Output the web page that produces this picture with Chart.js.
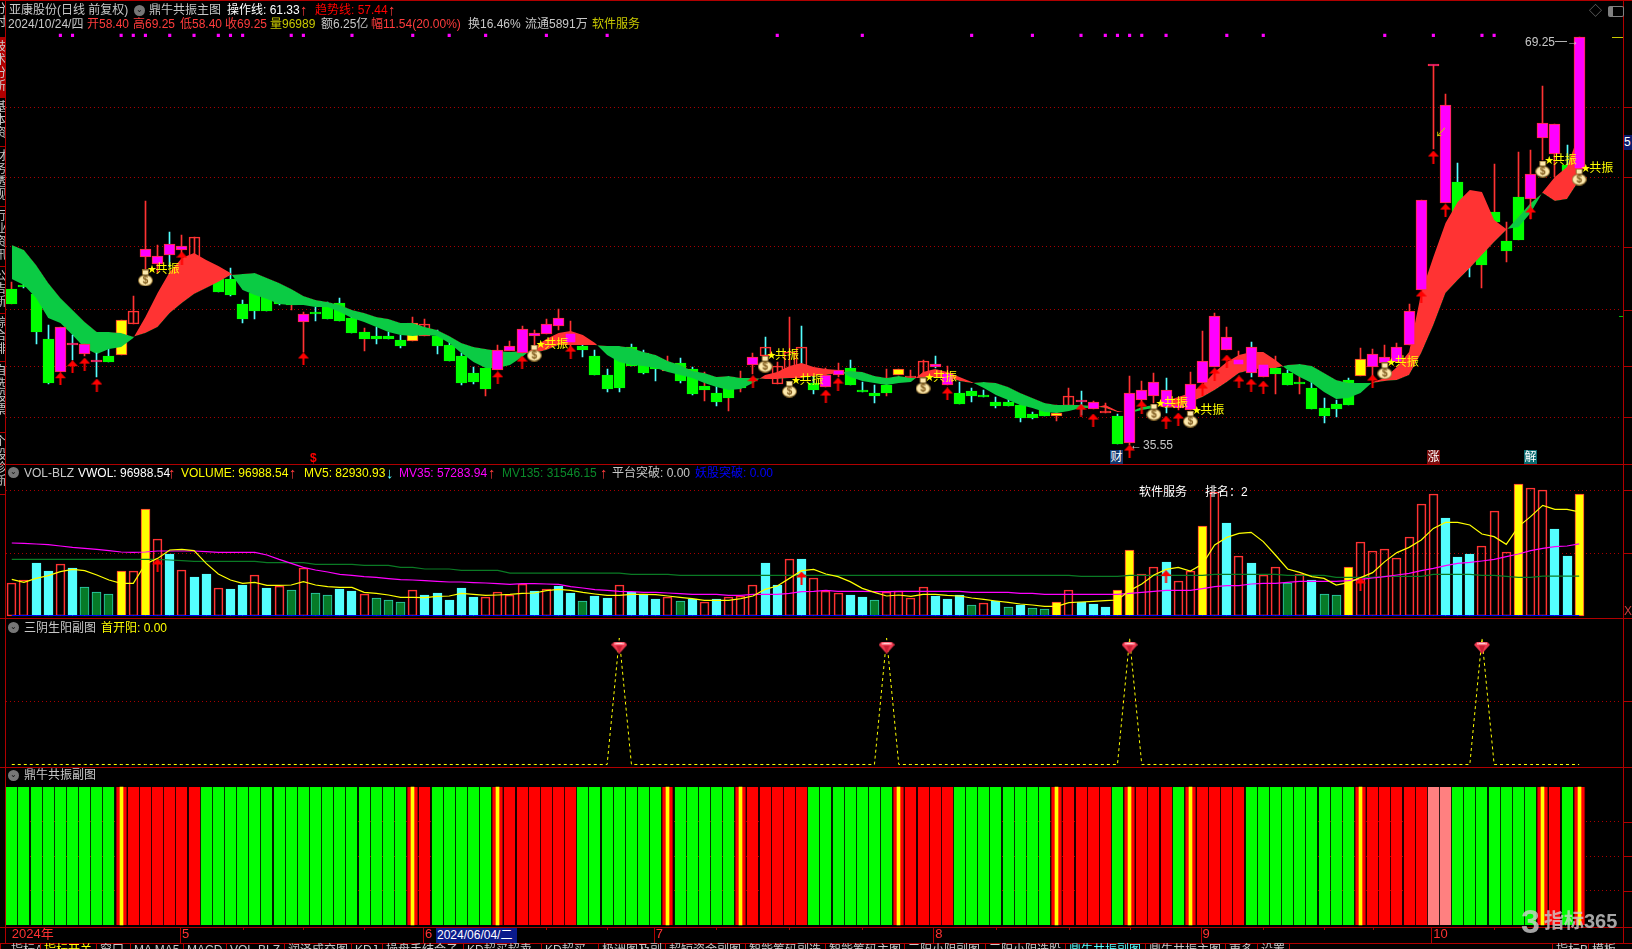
<!DOCTYPE html>
<html>
<head>
<meta charset="utf-8">
<title>亚康股份</title>
<script src="https://cdn.jsdelivr.net/npm/chart.js@4/dist/chart.umd.js"></script>
<style>
  html, body { margin: 0; padding: 0; background: #000; width: 1632px; height: 949px; overflow: hidden; }
  body { position: relative; font-family: "Liberation Sans", "Noto Sans CJK SC", sans-serif; font-size: 12px; }
  canvas { position: absolute; left: 0; }
  .t { position: absolute; white-space: nowrap; line-height: 14px; }
  .h { position: absolute; background: #b00000; height: 1px; left: 0; width: 1632px; }
  .v { position: absolute; background: #b00000; width: 1px; }
  .tab { position: absolute; top: 943px; height: 6px; overflow: hidden; line-height: 14px; color: #c8c8c8; white-space: nowrap; border-left: 1px solid #b00000; padding-left: 3px; box-sizing: border-box; }
  .side { position: absolute; left: 0; width: 5px; overflow: hidden; border-bottom: 1px solid #b00000; box-sizing: border-box; }
  .side span { position: absolute; right: 0; top: 2px; writing-mode: vertical-rl; color: #c8c8c8; line-height: 12px; letter-spacing: 1px; }
  .icon { position: absolute; width: 11px; height: 11px; border-radius: 50%; background: #777; color: #111; font-size: 8px; line-height: 10px; text-align: center; }
  .mark { position: absolute; width: 13px; height: 14px; color: #fff; text-align: center; line-height: 14px; }
</style>
</head>
<body>
<canvas id="mainChart" width="1632" height="464" style="top:0"></canvas>
<canvas id="volChart" width="1632" height="154" style="top:464px"></canvas>
<canvas id="sanChart" width="1632" height="149" style="top:618px"></canvas>
<canvas id="resChart" width="1632" height="176" style="top:767px"></canvas>
<script>
// K线 (价格)
const opens = [48.46,48.79,48.05,44.33,41.60,43.83,43.09,42.43,42.92,43.01,45.57,51.10,50.52,51.27,51.68,51.10,50.44,49.29,49.29,47.22,
  48.13,47.80,47.72,47.72,45.73,46.56,47.14,47.30,46.06,44.91,44.58,44.58,44.25,44.16,44.58,44.58,43.83,42.92,41.52,41.93,
  41.77,43.34,43.17,44.58,44.74,45.40,44.00,43.75,42.92,41.36,42.68,43.67,43.17,42.59,41.69,42.35,41.85,40.45,39.87,40.28,
  40.53,42.18,42.92,40.61,41.77,42.10,40.69,40.36,41.36,41.93,40.12,39.87,40.53,41.36,41.11,41.19,42.02,40.53,39.87,40.03,
  39.70,39.12,39.12,38.88,38.13,38.46,37.97,38.79,39.12,38.55,38.22,37.97,35.74,39.29,39.62,38.71,38.63,38.46,40.69,42.02,
  43.42,42.18,41.52,41.19,41.93,41.52,40.78,40.28,38.63,38.96,40.94,41.27,42.02,42.35,42.43,43.83,48.38,66.88,55.56,57.30,
  52.09,53.74,54.82,52.42,56.06,55.89,60.93,59.61,58.70,58.40];
const highs = [49.04,48.95,48.38,45.48,45.32,44.66,43.92,43.17,43.50,45.90,47.88,55.73,52.09,53.17,52.92,52.75,50.69,49.62,50.19,47.55,
  48.38,47.96,47.88,47.88,46.56,46.97,47.38,47.72,46.23,45.24,45.32,44.91,44.66,46.15,45.98,45.07,44.08,43.17,42.02,41.93,
  43.83,44.16,45.40,45.07,45.98,46.81,45.82,44.08,43.42,41.85,42.92,43.92,43.42,42.76,42.92,42.76,42.02,41.60,40.45,40.53,
  41.69,43.17,44.49,42.43,46.15,45.40,41.27,41.93,42.35,42.59,40.78,40.53,41.85,41.85,41.77,42.59,42.92,42.10,40.78,40.28,
  40.12,39.54,39.95,39.70,38.30,38.63,38.88,40.28,40.03,39.21,39.04,38.13,41.27,40.86,41.52,41.11,39.46,41.60,44.99,46.48,
  45.32,43.34,44.08,42.59,42.92,41.77,41.36,40.78,39.46,39.29,41.11,43.59,43.50,43.83,44.00,47.22,55.81,66.96,64.57,58.87,
  52.51,53.99,58.78,53.99,59.77,59.94,65.23,62.09,60.35,69.25];
const lows = [47.22,48.54,43.92,40.61,41.60,42.59,42.92,41.19,42.43,43.01,45.57,50.03,49.78,50.28,51.27,51.10,48.79,48.21,47.88,45.65,
  45.98,46.64,47.14,46.72,43.25,45.82,45.98,45.82,44.82,43.34,43.92,44.33,43.59,44.16,44.58,43.09,42.51,40.53,40.61,39.62,
  41.77,43.34,43.17,43.67,44.74,45.07,43.42,42.84,41.36,39.95,39.95,42.10,41.44,40.86,41.69,40.69,39.70,39.21,38.79,38.38,
  39.95,41.44,42.92,40.61,41.77,42.10,39.79,40.36,41.19,40.53,39.95,39.04,39.62,41.36,41.11,41.19,41.93,40.53,38.96,39.12,
  39.54,38.63,38.79,37.47,37.72,37.97,37.55,38.79,38.05,38.55,38.22,35.66,35.55,38.88,39.04,38.22,38.46,38.46,40.69,42.02,
  43.42,42.18,41.19,41.19,39.79,40.53,39.79,38.55,37.39,37.89,38.88,41.27,41.19,42.35,42.43,43.83,48.38,60.02,55.56,54.57,
  49.45,48.54,53.99,50.69,52.51,54.24,59.11,57.71,57.71,58.40];
const closes = [47.22,48.62,44.91,40.69,45.32,44.00,43.92,42.51,42.43,45.90,46.64,51.76,51.18,52.18,52.01,52.75,48.95,48.21,47.96,45.98,
  46.64,46.64,47.22,47.14,46.39,46.39,45.98,45.82,44.82,44.33,44.33,44.33,43.75,45.65,45.57,43.75,42.51,40.69,40.78,40.20,
  43.42,43.75,45.15,44.82,45.57,46.06,44.82,43.42,41.36,40.20,40.28,42.10,41.52,41.85,42.10,40.86,39.79,40.12,39.12,39.46,
  40.28,42.84,43.67,42.10,43.25,43.67,40.12,41.36,41.77,40.53,39.95,39.62,39.87,41.85,41.19,42.51,42.26,41.52,38.96,39.62,
  39.54,38.79,38.79,37.80,37.80,37.97,38.22,39.62,39.21,39.12,38.30,35.66,39.87,40.12,40.78,40.12,38.88,40.61,42.51,46.23,
  44.49,42.68,43.67,42.26,41.44,40.53,40.61,38.55,37.97,38.55,38.88,42.68,43.09,42.84,43.67,46.64,55.81,66.96,63.66,54.57,
  50.69,50.44,53.99,51.60,52.51,57.96,62.17,62.09,57.71,69.25];
const magentaBars = [4,5,6,7,11,12,13,14,24,40,41,42,43,44,45,46,61,67,68,76,77,88,89,92,93,94,95,96,97,98,99,100,101,102,103,112,113,114,115,116,117,118,125,126,127,129];
const yellowBars = [9,33,54,73,86,111];
const cyanWickUp = [5,7,13,62,65,76,88,95,102];
const redWickDown = [0,23,29,39,57,59,60,72,104,106,121,122,123,124];

// 操作线 / 趋势线
const operateLine = [49.29,48.79,47.72,46.06,45.65,44.66,43.59,43.09,43.50,43.67,44.41,46.15,48.13,49.86,51.02,51.43,50.85,50.36,49.78,48.38,
  47.96,47.63,47.22,47.14,47.14,46.97,46.97,46.56,46.06,45.73,45.32,44.91,44.66,44.58,44.66,44.58,44.00,43.17,42.43,41.93,
  41.93,42.18,42.84,43.67,44.33,44.82,44.99,44.66,44.00,43.01,42.43,42.18,42.10,41.93,41.60,41.36,41.11,40.69,40.36,40.12,
  40.20,40.69,41.36,41.60,42.10,42.35,42.02,41.85,41.77,41.19,40.86,40.69,40.53,40.69,40.78,41.60,41.85,41.60,41.19,40.78,
  40.28,39.70,39.29,38.88,38.63,38.30,38.22,38.38,38.63,38.63,38.88,38.38,38.22,38.46,38.63,39.21,39.54,39.87,40.53,41.60,
  42.43,43.01,43.25,43.25,42.59,41.77,41.19,40.69,39.95,39.37,39.46,39.87,40.78,41.11,42.02,43.25,48.13,51.10,53.91,55.64,
  56.64,56.47,54.16,53.41,53.58,54.74,56.47,57.71,58.54,61.33];
const trendLine = [52.09,51.68,50.44,48.95,47.72,46.72,45.73,44.91,44.91,44.82,44.52,44.82,45.32,46.48,47.30,48.05,48.54,49.04,49.62,49.70,
  49.78,49.37,48.95,48.46,47.88,47.55,47.38,47.14,46.72,46.48,46.15,45.98,45.65,45.65,45.32,45.07,44.58,44.00,43.67,43.50,
  43.34,43.25,43.34,43.17,43.42,43.83,43.83,43.83,43.83,43.75,43.75,43.59,43.25,43.01,42.51,42.18,41.69,41.52,41.19,41.27,
  41.11,41.11,41.02,41.02,41.11,41.11,41.27,41.36,41.52,41.69,41.60,41.27,41.11,41.27,41.11,41.11,41.19,41.19,40.86,40.69,
  40.78,40.69,40.36,39.87,39.46,39.04,38.88,38.88,38.88,38.79,38.63,38.30,38.30,38.71,38.88,38.63,38.71,39.12,39.54,40.12,
  40.78,41.52,41.77,41.93,41.93,42.18,42.26,42.10,41.52,40.94,40.69,40.69,40.69,40.86,40.94,41.36,43.17,45.48,48.13,49.20,
  50.19,51.27,52.34,53.33,54.41,55.56,56.39,55.73,55.89,57.44];

const priceGrid = [63.48,57.71,51.94,46.74,42.07,37.86];
const topDotBars = [4,5,9,10,11,13,15,17,18,19,23,24,28,33,36,39,44,49,63,70,79,84,88,90,91,92,93,95,100,103,113,117,121,122];
const arrowBars = [4,5,6,7,14,24,40,42,46,61,67,68,77,88,89,92,93,95,96,98,99,100,101,102,103,112,116,117,118,125];
const arrowPrices = [41.05,42.04,42.26,40.53,51.02,42.68,41.13,42.43,43.25,40.80,39.62,40.61,39.79,38.46,37.64,35.08,38.71,37.47,37.72,40.20,41.44,42.51,40.78,40.53,40.36,40.86,47.80,59.36,54.98,54.74];
const bagBars = [11,43,62,64,75,94,97,113,126,129];
const bagPrices = [49.37,43.17,42.26,40.20,40.45,38.30,37.72,41.69,58.37,57.71];

// 成交量
const volume = [25700,28100,42000,35600,40900,38000,22800,18800,17200,35600,35300,85200,60900,49200,36100,30800,33200,21700,21200,24400,
  32100,22000,23300,20400,37700,18000,16400,21200,19600,16900,14000,12400,10800,20100,16400,18000,12400,22000,14800,14500,
  18500,16400,24900,19600,20900,23600,18000,11600,15600,14000,24100,18800,17200,13200,14500,11600,13200,11100,13200,14500,
  15600,24100,42000,24400,44900,45200,29700,19600,17700,16400,14800,12400,18800,19300,13700,22500,15600,13200,16400,8400,
  9700,11600,6800,8400,6000,5200,10800,20100,10500,9200,6800,20400,52400,32900,38500,42800,27300,35300,71600,99100,
  74000,47300,42000,32100,38500,25700,32900,28100,17200,16400,38500,58500,51300,52900,45700,62500,88900,96900,77700,46800,
  49200,55300,83300,50500,105200,101700,100100,69200,47600,96989];
const volumeKind = ['H','H','C','C','H','C','G','G','G','Y','H','Y','H','C','H','C','C','H','C','C',
  'H','C','H','G','H','G','G','C','C','H','G','G','G','H','C','C','C','C','C','H',
  'H','H','H','C','H','C','C','G','C','C','H','C','C','C','H','G','C','H','C','H',
  'H','H','C','C','H','C','H','H','H','C','C','G','H','H','H','H','C','C','C','G',
  'H','C','G','C','G','G','Y','H','C','C','C','Y','Y','H','H','C','H','H','Y','H',
  'C','H','C','H','H','G','H','C','G','G','Y','H','H','H','H','H','H','H','C','C',
  'C','H','H','H','Y','H','H','C','C','Y'];
const mv5 = [28900,26500,29700,31900,35100,36900,35900,32400,28400,25700,25700,41200,45700,52400,52900,51900,41700,33200,28400,25700,
  26500,24100,24100,24400,27100,24400,23100,22500,22500,18500,17700,16400,14500,14500,14300,15300,15600,17700,16900,16100,
  16400,16900,17700,18000,19900,20900,20100,18500,17200,16100,16100,16900,16900,16700,15600,14500,13500,12100,12100,12100,
  13500,15600,20900,23600,29700,35900,36900,33200,31100,27100,21700,18500,15600,16400,15300,16900,16900,16100,15600,14000,
  12900,11600,10500,9200,8400,7300,7300,10300,10800,11300,11900,12400,19900,25200,32400,36900,38500,35600,41200,56400,
  62500,65700,66500,59100,48400,37200,34500,31100,29700,24400,26300,30300,34300,43100,50300,54500,60400,69700,74500,74500,
  72400,65200,63100,56900,71100,79100,88100,84900,84900,82931];
const mv35 = [58000,57700,57200,56700,55600,54500,53700,52900,51900,50800,50500,50800,51600,51600,51600,51600,51100,50500,50500,50500,
  50500,48400,44900,41700,38500,36400,34800,32900,32100,31100,30500,29500,28700,28400,27900,27300,26800,26800,26300,26000,
  25500,24900,25500,25500,25200,24900,23100,22000,20700,20100,19300,19100,18500,18500,18000,17500,16900,16900,16900,16100,
  16100,16900,16900,16900,17700,19100,19300,20100,19300,19300,19300,19100,19100,19300,19300,19300,19300,19300,19300,18500,
  18500,18500,18500,17700,17700,16900,16900,16900,16900,16900,16900,16900,17700,18500,19300,20100,20100,20100,21500,23100,
  23900,23900,25200,25700,25700,26500,27300,27300,27300,27300,27900,28900,30000,31100,32400,33700,35900,37700,39900,41700,
  42500,43600,44900,47100,49200,51900,53700,55100,55600,57284];
const mv135 = [44900,44900,44900,44900,44900,44900,44900,44900,44900,44900,44900,44900,44900,44400,43900,43300,43300,43300,43300,43300,
  43300,42300,42300,42300,42300,40900,40900,40900,40900,40100,40100,40100,38500,38500,37200,37200,37200,36100,36100,36100,
  36100,33900,33900,33900,33900,33900,33900,33900,33900,33900,33900,32900,32900,32900,32900,32100,32100,32100,32100,32100,
  32100,32100,32100,32100,32100,32100,32100,32100,32100,32100,32100,32100,32100,32100,32100,32100,32100,32100,32100,32100,
  32100,32100,32100,32100,32100,32100,32100,32100,31300,31300,31300,31300,32100,32100,32100,32100,32100,32100,32100,32900,
  32900,32900,32900,32900,32900,32100,32100,32100,32100,30500,30500,30500,30500,31300,31300,31300,31300,32900,32900,32900,
  32900,32100,32100,31300,30500,30500,31500,31500,31500,31546];
const volGrid = [50000,100000];
const volArrowBars = [12,65,95,111];
const volArrowValues = [40400,30000,31100,25200];

// 三阴生阳
const sanPeakBars = [50,72,92,121];
const sanSignal = [0,0,0,0,0,0,0,0,0,0,0,0,0,0,0,0,0,0,0,0,
  0,0,0,0,0,0,0,0,0,0,0,0,0,0,0,0,0,0,0,0,
  0,0,0,0,0,0,0,0,0,0,1,0,0,0,0,0,0,0,0,0,
  0,0,0,0,0,0,0,0,0,0,0,0,1,0,0,0,0,0,0,0,
  0,0,0,0,0,0,0,0,0,0,0,0,1,0,0,0,0,0,0,0,
  0,0,0,0,0,0,0,0,0,0,0,0,0,0,0,0,0,0,0,0,
  0,1,0,0,0,0,0,0,0,0];
const sanGrid = [0.5];

// 鼎牛共振 0 绿 1 红 2 共振 3 粉
const resonance = [0,0,0,0,0,0,0,0,0,2,1,1,1,1,1,1,0,0,0,0,
  0,0,0,0,0,0,0,0,0,0,0,0,0,2,1,0,0,0,0,0,
  2,1,1,1,1,1,1,0,0,0,0,0,0,0,2,0,0,0,0,0,
  2,1,1,1,1,1,0,0,0,0,0,0,0,2,1,1,1,1,0,0,
  0,0,0,0,0,0,2,1,1,1,1,0,2,1,1,1,0,2,1,1,
  1,1,0,0,0,0,0,0,0,0,0,2,1,1,1,1,1,3,3,0,
  0,0,0,0,0,0,2,1,0,2];
const resGrid = [0.25,0.5,0.75];
const monthBars = [0,14,34,53,76,98,117];
const monthLabels = ['2024年','5','6','7','8','9','10'];
const minorBars = [19,24,29,39,44,49,58,64,70,81,87,92,103,108,112,122,127];

const BAR_COUNT = 130;
const bars = Array.from({ length: 133 }, (_, i) => 'b' + i); // 右边留3根空位

const RED = '#ff3232', LIME = '#00ff00', CYAN = '#54ffff', MAGENTA = '#ff00ff', YELLOW = '#ffff00';
const GRID = '#a80000';

const sparse = (idx, vals) => {
  const out = new Array(BAR_COUNT).fill(null);
  idx.forEach((b, i) => { out[b] = vals[i]; });
  return out;
};

// 标记图标
function icon(w, h, draw) {
  const c = document.createElement('canvas');
  c.width = w; c.height = h;
  draw(c.getContext('2d'));
  return c;
}
const arrowIcon = icon(11, 13, (g) => {
  g.fillStyle = '#ff0000';
  g.beginPath(); g.moveTo(5.5, 0); g.lineTo(11, 6); g.lineTo(0, 6); g.fill();
  g.fillRect(4.5, 6, 2, 7);
});
const bagIcon = icon(15, 17, (g) => {
  g.fillStyle = '#8a6a2c';
  g.beginPath(); g.ellipse(7.5, 11, 7.5, 6, 0, 0, 7); g.fill();
  g.fillRect(4, 0, 7, 5);
  g.fillStyle = '#fde9ae';
  g.beginPath(); g.ellipse(7.5, 11, 6.5, 5, 0, 0, 7); g.fill();
  g.fillRect(5, 1, 5, 4);
  g.fillStyle = '#7a5518';
  g.font = 'bold 10px "Liberation Sans"';
  g.textAlign = 'center'; g.textBaseline = 'middle';
  g.fillText('$', 7.5, 11.5);
});
const gemIcon = icon(16, 12, (g) => {
  g.fillStyle = '#f03a50';
  g.beginPath(); g.moveTo(3, 0); g.lineTo(13, 0); g.lineTo(16, 3); g.lineTo(8, 12); g.lineTo(0, 3); g.fill();
  g.fillStyle = '#ff9aa6';
  g.fillRect(3, 1, 10, 2);
  g.fillStyle = '#ffe0e4';
  g.fillRect(5, 1, 6, 1);
  g.fillStyle = '#c81e34';
  g.beginPath(); g.moveTo(8, 12); g.lineTo(5, 4); g.lineTo(11, 4); g.fill();
});

// 柱子对齐到整数像素，不然1像素边框会发虚
const snapBars = {
  id: 'snapBars',
  afterDatasetsUpdate(chart) {
    chart.data.datasets.forEach((d, i) => {
      const meta = chart.getDatasetMeta(i);
      if (meta.type !== 'bar') return;
      meta.data.forEach((el) => {
        if (!Number.isFinite(el.x) || !Number.isFinite(el.y) || !Number.isFinite(el.base)) return;
        const w = Math.round(el.width);
        el.width = w;
        el.x = w % 2 ? Math.floor(el.x) + 0.5 : Math.round(el.x);
        el.y = Math.round(el.y);
        el.base = Math.round(el.base);
      });
    });
  }
};

// 右侧刻度
const rightTicks = {
  id: 'rightTicks',
  afterDraw(chart) {
    const g = chart.ctx, s = chart.scales.y;
    g.save();
    g.fillStyle = '#b00000';
    s.ticks.forEach((t) => g.fillRect(1624, Math.round(s.getPixelForValue(t.value)), 8, 1));
    g.restore();
  }
};

function yAxis(min, max, ticks) {
  return {
    min: min, max: max,
    grid: { color: GRID, drawTicks: false },
    border: { display: false, dash: [1, 3] },
    ticks: { display: false },
    afterBuildTicks: (axis) => { axis.ticks = ticks.map((v) => ({ value: v })); }
  };
}

function options(min, max, ticks) {
  return {
    responsive: false,
    animation: false,
    events: [],
    layout: { autoPadding: false, padding: { left: 5.7, right: 10.3, top: 0, bottom: 0 } },
    plugins: { legend: { display: false }, tooltip: { enabled: false } },
    scales: {
      x: { type: 'category', offset: true, display: false },
      y: yAxis(min, max, ticks)
    }
  };
}

const isMagenta = (i) => magentaBars.includes(i);
const isYellow = (i) => yellowBars.includes(i);
const isDown = (i) => closes[i] < opens[i] && !isMagenta(i) && !isYellow(i);

const bodyFill = (i) => isMagenta(i) ? MAGENTA : isYellow(i) ? YELLOW : isDown(i) ? LIME : 'rgba(0,0,0,0)';
const bodyEdge = (i) => isDown(i) ? LIME : RED;
const wickColor = (i) => {
  if (isDown(i)) return redWickDown.includes(i) ? RED : CYAN;
  return cyanWickUp.includes(i) ? CYAN : RED;
};
const idx = opens.map((_, i) => i);
const bodyOf = (keep) => idx.map((i) => keep(i) ? [opens[i], closes[i]] : null);
const wickOf = (keep) => idx.map((i) => keep(i) ? [lows[i], highs[i]] : null);

function bodySet(keep, order) {
  return {
    data: bodyOf(keep), order, grouped: false, barThickness: 11, minBarLength: 2,
    backgroundColor: idx.map(bodyFill), borderColor: idx.map(bodyEdge),
    borderWidth: 1, borderSkipped: false
  };
}
function wickSet(keep, order) {
  return {
    data: wickOf(keep), order, grouped: false, barThickness: 1,
    backgroundColor: idx.map(wickColor), borderWidth: 0
  };
}
function markSet(data, style, order) {
  return { type: 'line', data, order, showLine: false, pointStyle: style, pointRadius: 6 };
}

const mainChart = new Chart(document.getElementById('mainChart'), {
  type: 'bar',
  data: {
    labels: bars,
    datasets: [
      wickSet((i) => !isMagenta(i), 9),
      bodySet((i) => !isMagenta(i), 8),
      {
        type: 'line', data: operateLine, order: 6, borderWidth: 0, pointRadius: 0,
        fill: { target: '+1', above: '#ff3333', below: '#0bcb44' }
      },
      { type: 'line', data: trendLine, order: 7, borderWidth: 0, pointRadius: 0, fill: false },
      wickSet(isMagenta, 5),
      bodySet(isMagenta, 4),
      markSet(sparse(arrowBars, arrowPrices), arrowIcon, 3),
      markSet(sparse(bagBars, bagPrices), bagIcon, 2),
      {
        type: 'line', data: sparse(topDotBars, topDotBars.map(() => 69.41)), order: 1, showLine: false,
        pointStyle: 'rect', pointRadius: 2.2, pointBackgroundColor: MAGENTA, pointBorderWidth: 0
      }
    ]
  },
  options: options(34.0066, 72.33, priceGrid),
  plugins: [snapBars, rightTicks]
});

const volFill = { H: 'rgba(0,0,0,0)', C: CYAN, G: '#067a28', Y: YELLOW };
const volEdge = { H: RED, C: CYAN, G: '#2fd0b0', Y: RED };
const volChart = new Chart(document.getElementById('volChart'), {
  type: 'bar',
  data: {
    labels: bars,
    datasets: [
      {
        data: volume, order: 6, grouped: false, barThickness: 9,
        backgroundColor: volumeKind.map((k) => volFill[k]), borderColor: volumeKind.map((k) => volEdge[k]),
        borderWidth: 1, borderSkipped: false
      },
      { type: 'line', data: new Array(BAR_COUNT).fill(0), order: 5, borderColor: '#0000ff', borderWidth: 1, pointRadius: 0 },
      { type: 'line', data: mv135, order: 4, borderColor: '#0a7a24', borderWidth: 1.2, pointRadius: 0 },
      { type: 'line', data: mv35, order: 3, borderColor: MAGENTA, borderWidth: 1.2, pointRadius: 0 },
      { type: 'line', data: mv5, order: 2, borderColor: YELLOW, borderWidth: 1.2, pointRadius: 0 },
      markSet(sparse(volArrowBars, volArrowValues), arrowIcon, 1)
    ]
  },
  options: options(-2000, 121200, volGrid),
  plugins: [snapBars, rightTicks]
});

const sanChart = new Chart(document.getElementById('sanChart'), {
  type: 'bar',
  data: {
    labels: bars,
    datasets: [
      { type: 'line', data: sanSignal, order: 2, borderColor: YELLOW, borderWidth: 1, borderDash: [3, 3], pointRadius: 0 },
      markSet(sparse(sanPeakBars, sanPeakBars.map(() => 0.925)), gemIcon, 1)
    ]
  },
  options: options(-0.0198, 1.16, sanGrid),
  plugins: [rightTicks]
});

// 日期轴刻度
const dateTicks = {
  id: 'dateTicks',
  afterDraw(chart) {
    const g = chart.ctx, s = chart.scales.x, bottom = chart.chartArea.bottom;
    g.save();
    g.fillStyle = '#b00000';
    monthBars.slice(1).forEach((b) => g.fillRect(Math.round(s.getPixelForValue(bars[b])) - 2, bottom, 1, 16));
    minorBars.forEach((b) => g.fillRect(Math.round(s.getPixelForValue(bars[b])), bottom, 1, 3));
    g.restore();
  }
};
const resOpts = options(-0.0145, 1.145, resGrid);
resOpts.scales.x = {
  type: 'category', offset: true, display: true,
  grid: { display: false, drawTicks: false },
  border: { display: false },
  afterFit: (axis) => { axis.height = 16; },
  ticks: {
    autoSkip: false, maxRotation: 0, minRotation: 0, padding: 0, align: 'start', color: RED,
    font: { size: 13, family: '"Liberation Sans", "Noto Sans CJK SC"' },
    callback: (v, i) => { const m = monthBars.indexOf(i); return m < 0 ? '' : monthLabels[m]; }
  }
};
const resColor = ['#00ff00', '#ff0000', '#ff0000', '#ff8080'];
const resChart = new Chart(document.getElementById('resChart'), {
  type: 'bar',
  data: {
    labels: bars,
    datasets: [
      {
        data: resonance.map((s) => 1), order: 2, grouped: false, barThickness: 11,
        backgroundColor: resonance.map((s) => resColor[s]),
        borderColor: resonance.map((s) => s === 2 ? '#700000' : resColor[s]),
        borderWidth: { left: 1, right: 1 }, borderSkipped: false
      },
      {
        data: resonance.map((s) => s === 2 ? 1 : null), order: 1, grouped: false, barThickness: 3,
        backgroundColor: YELLOW
      }
    ]
  },
  options: resOpts,
  plugins: [snapBars, rightTicks, dateTicks]
});

// 文字和边框
function put(x, y, text, color, extra) {
  const s = document.createElement('span');
  s.className = 't';
  s.textContent = text;
  s.style.left = x + 'px';
  s.style.top = (y - 7) + 'px';
  s.style.color = color;
  if (extra) Object.assign(s.style, extra);
  document.body.appendChild(s);
  return s;
}
const GREY = '#c8c8c8', TXTRED = '#ff3c3c', OLIVE = '#c8c800';
const UP = { fontSize: '15px' };
[
  [9, 10, '亚康股份(日线 前复权)', GREY], [149, 10, '鼎牛共振主图', GREY],
  [227, 10, '操作线: 61.33', '#ffffff'], [300, 10, '↑', TXTRED, UP],
  [315, 10, '趋势线: 57.44', '#ff0000'], [388, 10, '↑', TXTRED, UP],
  [8, 24, '2024/10/24/四', GREY], [87, 24, '开58.40', TXTRED], [133, 24, '高69.25', TXTRED],
  [180, 24, '低58.40', TXTRED], [225, 24, '收69.25', TXTRED], [270, 24, '量96989', OLIVE],
  [321, 24, '额6.25亿', GREY], [371, 24, '幅11.54(20.00%)', TXTRED], [468, 24, '换16.46%', GREY],
  [525, 24, '流通5891万', GREY], [592, 24, '软件服务', OLIVE],
  [24, 473, 'VOL-BLZ', GREY], [78, 473, 'VWOL: 96988.54', '#ffffff'], [168, 473, '↑', TXTRED, UP],
  [181, 473, 'VOLUME: 96988.54', YELLOW], [289, 473, '↑', TXTRED, UP],
  [304, 473, 'MV5: 82930.93', YELLOW], [386, 473, '↓', CYAN, UP],
  [399, 473, 'MV35: 57283.94', MAGENTA], [488, 473, '↑', TXTRED, UP],
  [502, 473, 'MV135: 31546.15', '#0a8a2a'], [600, 473, '↑', TXTRED, UP],
  [612, 473, '平台突破: 0.00', GREY], [695, 473, '妖股突破: 0.00', '#0000ff'],
  [1139, 492, '软件服务', '#ffffff'], [1205, 492, '排名：2', '#ffffff'],
  [24, 628, '三阴生阳副图', GREY], [101, 628, '首开阳: 0.00', YELLOW],
  [24, 775, '鼎牛共振副图', GREY],
  [1525, 42, '69.25', GREY], [1555, 41, '—→', GREY],
  [1130, 445, '←', GREY], [1143, 445, '35.55', GREY],
  [1435, 133, '↙', OLIVE], [437, 935, '2024/06/04/二', '#ffffff', { background: '#0a1a8c', width: '79px', lineHeight: '15px', outline: '1px solid #0a1a8c' }],
  [310, 458, '$', '#ff0000', { fontWeight: 'bold' }]
].forEach((a) => put(a[0], a[1], a[2], a[3], a[4]));

// 共振文字，位置跟随K线坐标轴
bagBars.forEach((b, i) => {
  const px = mainChart.scales.x.getPixelForValue(bars[b]);
  const py = mainChart.scales.y.getPixelForValue(bagPrices[i]);
  put(px + 2, py - 9, '★', YELLOW, { fontSize: '9px' });
  put(px + 10, py - 9, '共振', YELLOW);
});

[[1110, '财', '#12386e'], [1427, '涨', '#7a0e0e'], [1524, '解', '#0a6a70']].forEach((m) => {
  const d = document.createElement('div');
  d.className = 'mark';
  d.textContent = m[1];
  d.style.left = m[0] + 'px';
  d.style.top = '450px';
  d.style.background = m[2];
  document.body.appendChild(d);
});

[[0], [464], [618], [767], [927], [943]].forEach((r) => {
  const d = document.createElement('div');
  d.className = 'h';
  d.style.top = r[0] + 'px';
  document.body.appendChild(d);
});
[[5, 0, 943], [1623, 0, 943]].forEach((r) => {
  const d = document.createElement('div');
  d.className = 'v';
  d.style.left = r[0] + 'px'; d.style.top = r[1] + 'px'; d.style.height = r[2] + 'px';
  document.body.appendChild(d);
});

// 面板折叠图标
[[134, 5], [8, 467], [8, 622], [8, 770]].forEach((p) => {
  const d = document.createElement('div');
  d.className = 'icon';
  d.textContent = '⌄';
  d.style.left = p[0] + 'px';
  d.style.top = p[1] + 'px';
  document.body.appendChild(d);
});

// 左侧竖排标签
const sideTabs = [
  [0, 38, '分时走势', false], [38, 60, '技术分析', true], [98, 49, '基本资料', false], [147, 60, '财务透视', false],
  [207, 60, '行业资讯', false], [267, 47, '公告新闻', false], [314, 48, '综合排名', false], [362, 71, '自选股票', false], [433, 62, '个股诊断', false]
];
sideTabs.forEach((t) => {
  const d = document.createElement('div');
  d.className = 'side';
  d.style.top = t[0] + 'px';
  d.style.height = t[1] + 'px';
  if (t[3]) d.style.background = '#b00000';
  const s = document.createElement('span');
  s.textContent = t[2];
  d.appendChild(s);
  document.body.appendChild(d);
});

// 底部指标栏
const tabs = [
  [0, '指标A', GREY], [40, '指标开关', YELLOW], [96, '窗口', GREY], [130, 'MA MA5', GREY], [183, 'MACD', GREY], [226, 'VOL-BLZ', GREY],
  [284, '润泽成交图', GREY], [351, 'KDJ', GREY], [382, '操盘手结合子', GREY], [463, 'KD超买超卖', GREY], [541, 'KD超买', GREY],
  [598, '极洲图及副', GREY], [665, '超短资金副图', GREY], [745, '智能筹码副选', GREY], [825, '智能筹码主图', GREY], [904, '三阳小阴副图', GREY],
  [985, '三阳小阴选股', GREY], [1065, '鼎牛共振副图', CYAN], [1145, '鼎牛共振主图', GREY], [1225, '更多', GREY], [1257, '设置', GREY],
  [1289, '', GREY], [1552, '指标B', GREY], [1588, '模板', GREY]
];
tabs.forEach((t, i) => {
  const d = document.createElement('div');
  d.className = 'tab';
  d.textContent = t[1];
  d.style.left = t[0] + 'px';
  d.style.color = t[2];
  d.style.width = ((i + 1 < tabs.length ? tabs[i + 1][0] : 1632) - t[0]) + 'px';
  if (i === 0) d.style.paddingLeft = '10px';
  document.body.appendChild(d);
});

// 右上角和右侧小件
put(1589, 11, '◇', '#707070', { fontSize: '13px' });
const box = document.createElement('div');
box.style.cssText = 'position:absolute;left:1608px;top:6px;width:10px;height:9px;border:1px solid #808080;border-radius:2px;border-left-width:5px;';
document.body.appendChild(box);
put(1624, 142, '5', '#ffffff', { background: '#0a1a6c', width: '8px', overflow: 'hidden', lineHeight: '15px' });
put(1624, 611, 'X', '#c84040', { width: '8px', overflow: 'hidden' });
[[1612, 37, 11, '#c8c800'], [1619, 316, 4, '#00c000']].forEach((r) => {
  const d = document.createElement('div');
  d.style.cssText = `position:absolute;left:${r[0]}px;top:${r[1]}px;width:${r[2]}px;height:1px;background:${r[3]}`;
  document.body.appendChild(d);
});

// 水印
put(1521, 921, '3', 'rgba(205,205,205,0.8)', { fontSize: '34px', fontWeight: 'bold', lineHeight: '14px' });
put(1544, 921, '指标365', 'rgba(205,205,205,0.8)', { fontSize: '20px', fontWeight: 'bold' });
</script>
</body>
</html>
